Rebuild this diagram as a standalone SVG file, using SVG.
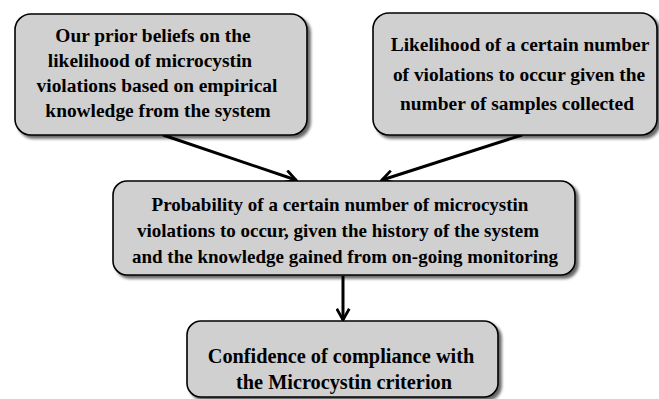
<svg xmlns="http://www.w3.org/2000/svg" width="659" height="399" viewBox="0 0 659 399">
<defs>
<filter id="sh" x="-5%" y="-5%" width="115%" height="120%">
<feGaussianBlur in="SourceAlpha" stdDeviation="1.5"/>
<feOffset dx="2.5" dy="2.5" result="b"/>
<feComponentTransfer><feFuncA type="linear" slope="0.6"/></feComponentTransfer>
<feMerge><feMergeNode/><feMergeNode in="SourceGraphic"/></feMerge>
</filter>
<marker id="ah" viewBox="0 0 12 12" refX="10" refY="6" markerWidth="5" markerHeight="5" orient="auto" markerUnits="strokeWidth">
<path d="M1,1 L10,6 L1,11" fill="none" stroke="#000" stroke-width="2.2" stroke-linejoin="miter"/>
</marker>
</defs>
<style>
.box{fill:#d0d0d0;stroke:#000;stroke-width:1.6;filter:url(#sh)}
.t{font-family:"Liberation Serif","Times New Roman",serif;font-weight:bold;font-size:19.4px;fill:#000;text-anchor:middle}
.m{font-size:19px}
.b{font-size:20.3px}
.c{stroke:#000;stroke-width:3;fill:none;marker-end:url(#ah)}
</style>
<rect width="659" height="399" fill="#fff"/>
<g id="connectors">
<line class="c" x1="163" y1="135" x2="296" y2="180"/>
<line class="c" x1="522" y1="135" x2="382" y2="180"/>
<line class="c" x1="343" y1="276" x2="343" y2="320"/>
</g>
<g id="prior">
<rect class="box" x="15" y="14" width="292" height="121" rx="16"/>
<text class="t" x="153" y="42">Our prior beliefs on the</text>
<text class="t" x="150" y="67">likelihood of microcystin</text>
<text class="t" x="157" y="92">violations based on empirical</text>
<text class="t" x="158" y="117">knowledge from the system</text>
</g>
<g id="likelihood">
<rect class="box" x="373" y="13" width="284" height="122" rx="16"/>
<text class="t" x="520" y="51">Likelihood of a certain number</text>
<text class="t" x="519" y="81">of violations to occur given the</text>
<text class="t" x="517" y="110">number of samples collected</text>
</g>
<g id="posterior">
<rect class="box" x="113" y="181" width="462" height="94" rx="14"/>
<text class="t m" x="340" y="211">Probability of a certain number of microcystin</text>
<text class="t m" x="338" y="237">violations to occur, given the history of the system</text>
<text class="t m" x="345" y="263">and the knowledge gained from on-going monitoring</text>
</g>
<g id="confidence">
<rect class="box" x="187" y="321" width="311" height="76" rx="14"/>
<text class="t b" x="341" y="363">Confidence of compliance with</text>
<text class="t b" x="344" y="389">the Microcystin criterion</text>
</g>
</svg>
